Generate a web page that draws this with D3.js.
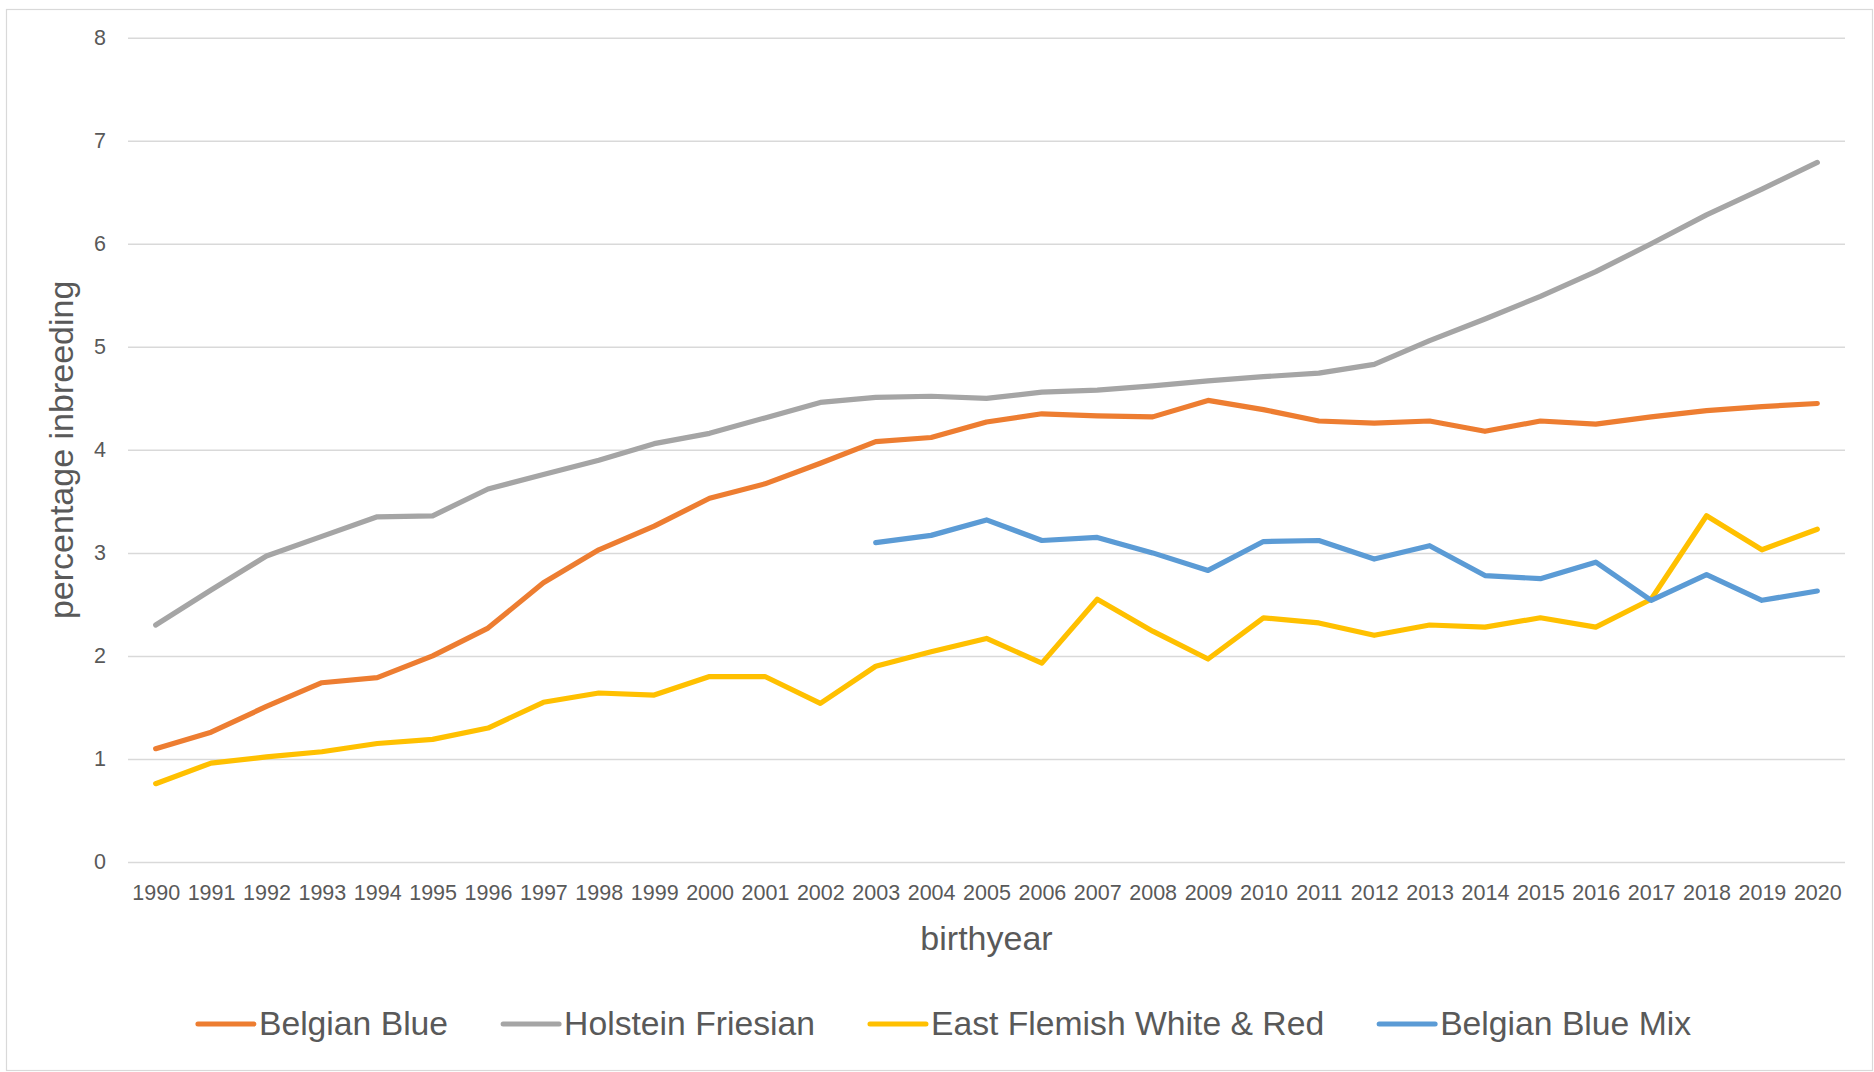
<!DOCTYPE html>
<html lang="en">
<head>
<meta charset="utf-8">
<title>percentage inbreeding by birthyear</title>
<script src="https://cdn.jsdelivr.net/npm/d3@7"></script>
<style>
  body { margin: 0; background: #fff; }
  svg text { font-family: "Liberation Sans", Arial, sans-serif; fill: #595959; }
</style>
</head>
<body>
<script>
// data ------------------------------------------------------------------
var years = ["1990","1991","1992","1993","1994","1995","1996","1997","1998","1999",
             "2000","2001","2002","2003","2004","2005","2006","2007","2008","2009",
             "2010","2011","2012","2013","2014","2015","2016","2017","2018","2019","2020"];

var belgianBlue = [1.10,1.26,1.51,1.74,1.79,2.00,2.27,2.71,3.03,3.26,
                   3.53,3.67,3.87,4.08,4.12,4.27,4.35,4.33,4.32,4.48,
                   4.39,4.28,4.26,4.28,4.18,4.28,4.25,4.32,4.38,4.42,4.45];

var holsteinFriesian = [2.30,2.64,2.97,3.16,3.35,3.36,3.62,3.76,3.90,4.06,
                        4.16,4.31,4.46,4.51,4.52,4.50,4.56,4.58,4.62,4.67,
                        4.71,4.745,4.83,5.06,5.27,5.49,5.73,6.00,6.28,6.53,6.79];

var eastFlemish = [0.76,0.96,1.02,1.07,1.15,1.19,1.30,1.55,1.64,1.62,
                   1.80,1.80,1.54,1.90,2.04,2.17,1.93,2.55,2.24,1.97,
                   2.37,2.32,2.20,2.30,2.28,2.37,2.28,2.55,3.36,3.03,3.23];

var belgianBlueMix = [null,null,null,null,null,null,null,null,null,null,
                      null,null,null,3.10,3.17,3.32,3.12,3.15,3.00,2.83,
                      3.11,3.12,2.94,3.07,2.78,2.75,2.91,2.54,2.79,2.54,2.63];

var seriesNames = ["Belgian Blue", "Holstein Friesian", "East Flemish White & Red", "Belgian Blue Mix"];
var seriesColors = ["#ED7D31", "#A5A5A5", "#FFC000", "#5B9BD5"];
var yTicks = [0,1,2,3,4,5,6,7,8];

var series = [belgianBlue, holsteinFriesian, eastFlemish, belgianBlueMix];

// size -----------------------------------------------------------------------
var width = 1874, height = 1072;
var plotLeft = 128, plotRight = 1845, plotTop = 37.7, plotBottom = 862;

var svg = d3.select("body").append("svg")
    .attr("width", width)
    .attr("height", height);

// chart area border
svg.append("rect")
    .attr("x", 6.5).attr("y", 9.5)
    .attr("width", 1866).attr("height", 1061)
    .attr("fill", "#fff")
    .attr("stroke", "#D9D9D9")
    .attr("stroke-width", 1.2);

// scales ---------------------------------------------------------------------
var x = d3.scalePoint().domain(years).range([plotLeft, plotRight]).padding(0.5);
var y = d3.scaleLinear().domain([0, 8]).range([plotBottom, plotTop]);

// gridlines + y labels
var yAxis = d3.axisLeft(y)
    .tickValues(yTicks)
    .tickFormat(d3.format("d"))
    .tickSize(-(plotRight - plotLeft))
    .tickPadding(22);

svg.append("g")
    .attr("transform", "translate(" + plotLeft + ",0)")
    .call(yAxis)
    .call(g => g.select(".domain").remove())
    .call(g => g.selectAll(".tick line").attr("stroke", "#D9D9D9").attr("stroke-width", 1.5))
    .call(g => g.selectAll(".tick text")
        .attr("font-size", 21.5)
        .attr("font-family", null)
        .attr("fill", null));

// x labels
var xAxis = d3.axisBottom(x).tickSize(0);
svg.append("g")
    .attr("transform", "translate(0," + plotBottom + ")")
    .call(xAxis)
    .call(g => g.select(".domain").remove())
    .call(g => g.selectAll(".tick text")
        .attr("y", 38).attr("dy", null)
        .attr("font-size", 21.5)
        .attr("font-family", null)
        .attr("fill", null));

// axis titles
svg.append("text")
    .attr("x", (plotLeft + plotRight) / 2)
    .attr("y", 950)
    .attr("text-anchor", "middle")
    .attr("font-size", 34)
    .text("birthyear");

svg.append("text")
    .attr("transform", "translate(73," + ((plotTop + plotBottom) / 2) + ") rotate(-90)")
    .attr("text-anchor", "middle")
    .attr("font-size", 34)
    .text("percentage inbreeding");

// lines ----------------------------------------------------------------------
var line = d3.line()
    .defined(d => d != null)
    .x((d, i) => x(years[i]))
    .y(d => y(d));

svg.append("g").selectAll("path")
    .data(series)
    .join("path")
    .attr("fill", "none")
    .attr("stroke", (d, i) => seriesColors[i])
    .attr("stroke-width", 5.2)
    .attr("stroke-linejoin", "round")
    .attr("stroke-linecap", "round")
    .attr("d", line);

// legend ---------------------------------------------------------------------
var legend = svg.append("g");
var items = legend.selectAll("g")
    .data(seriesNames)
    .join("g");

items.append("line")
    .attr("x1", 0).attr("x2", 56)
    .attr("y1", 0).attr("y2", 0)
    .attr("stroke", (d, i) => seriesColors[i])
    .attr("stroke-width", 5)
    .attr("stroke-linecap", "round");

items.append("text")
    .attr("x", 61)
    .attr("y", 11)
    .attr("font-size", 33.7)
    .text(d => d);

// lay out the legend items side by side, centered in the chart area
var gap = 55, offsets = [], pos = 0;
items.each(function() {
    offsets.push(pos);
    pos += 61 + this.querySelector("text").getComputedTextLength() + gap;
});
var total = pos - gap;
var startX = 944.5 - total / 2;
items.attr("transform", (d, i) => "translate(" + (startX + offsets[i]) + ",1024)");
</script>
</body>
</html>
